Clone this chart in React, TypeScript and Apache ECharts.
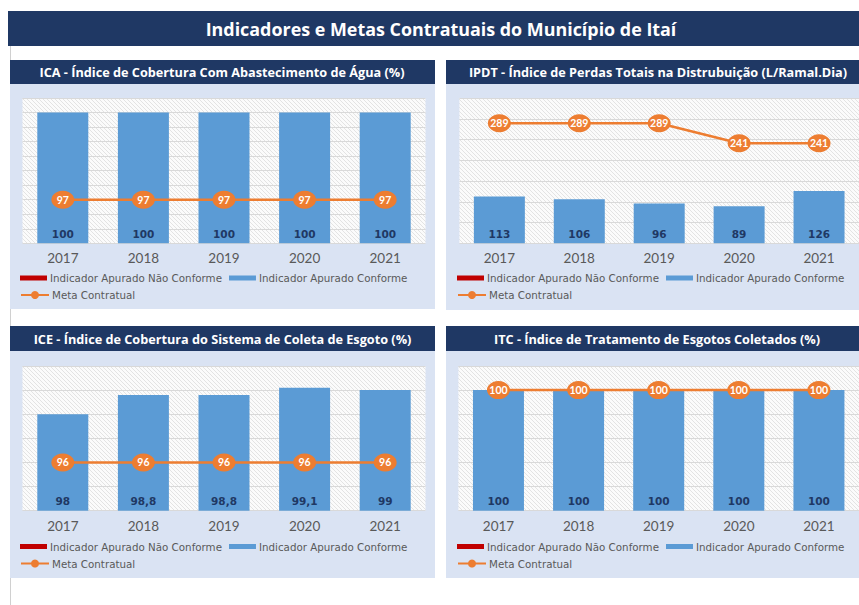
import React, { useEffect, useRef } from "react";
import * as echarts from "echarts";

const years = ["2017", "2018", "2019", "2020", "2021"];

const icaConforme = [100, 100, 100, 100, 100];
const icaMeta = [97, 97, 97, 97, 97];
const ipdtConforme = [113, 106, 96, 89, 126];
const ipdtMeta = [289, 289, 289, 241, 241];
const iceConforme = [98, 98.8, 98.8, 99.1, 99];
const iceMeta = [96, 96, 96, 96, 96];
const itcConforme = [100, 100, 100, 100, 100];
const itcMeta = [100, 100, 100, 100, 100];
const naoConforme: (number | null)[] = [null, null, null, null, null];

const mainTitle = "Indicadores e Metas Contratuais do Município de Itaí";
const panelTitles = [
  "ICA - Índice de Cobertura Com Abastecimento de Água (%)",
  "IPDT - Índice de Perdas Totais na Distrubuição (L/Ramal.Dia)",
  "ICE - Índice de Cobertura do Sistema de Coleta de Esgoto (%)",
  "ITC - Índice de Tratamento de Esgotos Coletados (%)",
];
const legendBars = ["Indicador Apurado Não Conforme", "Indicador Apurado Conforme"];
const legendLine = "Meta Contratual";

const NAVY = "#1f3864";
const PANEL = "#dae3f3";
const BLUE = "#5b9bd5";
const ORANGE = "#ed7d31";
const RED = "#c00000";
const GRAY = "#595959";

function hatchUrl(): string {
  const c = document.createElement("canvas");
  c.width = 4;
  c.height = 4;
  const ctx = c.getContext("2d")!;
  ctx.fillStyle = "#fbfbfb";
  ctx.fillRect(0, 0, 4, 4);
  ctx.strokeStyle = "#e3e3e3";
  ctx.lineWidth = 1;
  for (const off of [-4, 0, 4]) {
    ctx.beginPath();
    ctx.moveTo(0, off);
    ctx.lineTo(4, 4 + off);
    ctx.stroke();
  }
  return c.toDataURL();
}

export default function App() {
  const ref = useRef<HTMLDivElement>(null);
  useEffect(() => {
    if (!ref.current) return;
    const chart = echarts.init(ref.current, undefined, { renderer: "svg" });
    const hatch = { image: hatchUrl(), repeat: "repeat" } as any;

    const panels = [
      { grid: { left: 22.5, top: 98, width: 403, height: 145.3 }, y: { min: 95.5, max: 100.5, interval: 0.5 }, bar: icaConforme, meta: icaMeta, legX: 20, legY: 273 },
      { grid: { left: 459.4, top: 98, width: 401.2, height: 145.3 }, y: { min: 0, max: 350, interval: 50 }, bar: ipdtConforme, meta: ipdtMeta, legX: 457, legY: 273 },
      { grid: { left: 22.5, top: 366, width: 403, height: 144.7 }, y: { min: 94, max: 100, interval: 1 }, bar: iceConforme, meta: iceMeta, legX: 20, legY: 541.5 },
      { grid: { left: 458.4, top: 366, width: 402.2, height: 144.7 }, y: { min: 0, max: 120, interval: 20 }, bar: itcConforme, meta: itcMeta, legX: 457, legY: 541.5 },
    ];

    const grids: any[] = [];
    const xAxes: any[] = [];
    const yAxes: any[] = [];
    const series: any[] = [];
    const legends: any[] = [];

    panels.forEach((p, i) => {
      grids.push({ ...p.grid, show: true, backgroundColor: hatch, borderWidth: 0 });
      xAxes.push({
        type: "category",
        gridIndex: i,
        data: years,
        axisLine: { show: false },
        axisTick: { show: false },
        axisLabel: { color: GRAY, fontSize: 13.5, fontFamily: "Lato", margin: 8 },
      });
      yAxes.push({
        type: "value",
        gridIndex: i,
        min: p.y.min,
        max: p.y.max,
        interval: p.y.interval,
        axisLabel: { show: false },
        axisLine: { show: false },
        axisTick: { show: false },
        splitLine: { show: true, lineStyle: { color: "#d9d9d9", width: 1 } },
      });
      series.push({
        type: "bar",
        name: legendBars[1],
        xAxisIndex: i,
        yAxisIndex: i,
        stack: "s" + i,
        data: p.bar,
        barWidth: 51,
        itemStyle: { color: BLUE },
        label: {
          show: true,
          position: "insideBottom",
          distance: 4,
          color: NAVY,
          fontWeight: "bold",
          fontSize: 10.5,
          fontFamily: "DejaVu Sans",
          formatter: (v: any) => String(v.value).replace(".", ","),
        },
      });
      series.push({
        type: "bar",
        name: legendBars[0],
        xAxisIndex: i,
        yAxisIndex: i,
        stack: "s" + i,
        data: naoConforme,
        barWidth: 51,
        itemStyle: { color: RED },
      });
      series.push({
        type: "line",
        name: legendLine,
        xAxisIndex: i,
        yAxisIndex: i,
        data: p.meta,
        symbol: "circle",
        symbolSize: [23, 18],
        itemStyle: { color: ORANGE },
        lineStyle: { color: ORANGE, width: 2.5 },
        label: {
          show: true,
          position: "inside",
          color: "#ffffff",
          fontWeight: "bold",
          fontSize: 10.5,
          fontFamily: "Lato",
        },
        z: 5,
      });
      legends.push({
        left: p.legX,
        top: p.legY,
        orient: "horizontal",
        data: legendBars.map((n) => ({ name: n, icon: "rect" })),
        itemWidth: 27,
        itemHeight: 5,
        itemGap: 7,
        padding: 0,
        selectedMode: false,
        textStyle: { color: GRAY, fontSize: 10.3, fontFamily: "DejaVu Sans", padding: [0, 0, 0, -2] },
      });
      legends.push({
        left: p.legX,
        top: p.legY + 17,
        data: [legendLine],
        itemWidth: 28,
        itemHeight: 10,
        padding: 0,
        selectedMode: false,
        textStyle: { color: GRAY, fontSize: 10.3, fontFamily: "DejaVu Sans", padding: [0, 0, 0, -2] },
      });
    });

    const boxes = [
      { x: 10, y: 60, w: 425, hh: 24, bh: 225, tx: 222, t: panelTitles[0] },
      { x: 446, y: 60, w: 420, hh: 24, bh: 226, tx: 658, t: panelTitles[1] },
      { x: 10, y: 326, w: 425, hh: 25, bh: 227, tx: 222.5, t: panelTitles[2] },
      { x: 446, y: 326, w: 420, hh: 25, bh: 227, tx: 657, t: panelTitles[3] },
    ];
    const graphics: any[] = [
      { type: "line", z: -2, shape: { x1: 10.5, y1: 46, x2: 10.5, y2: 605 }, style: { stroke: "#d0d0d0", lineWidth: 1 } },
      { type: "rect", z: -1, shape: { x: 8, y: 11, width: 860, height: 35 }, style: { fill: NAVY } },
      {
        type: "text",
        z: 10,
        x: 441,
        y: 28.5,
        style: { text: mainTitle, fill: "#ffffff", font: "bold 17.9px 'Open Sans'", textAlign: "center", textVerticalAlign: "middle" },
      },
    ];
    boxes.forEach((b) => {
      graphics.push({ type: "rect", z: -1, shape: { x: b.x, y: b.y + b.hh, width: b.w, height: b.bh }, style: { fill: PANEL } });
      graphics.push({ type: "rect", z: -1, shape: { x: b.x, y: b.y, width: b.w, height: b.hh }, style: { fill: NAVY } });
      graphics.push({
        type: "text",
        z: 10,
        x: b.tx,
        y: b.y + b.hh / 2,
        style: { text: b.t, fill: "#ffffff", font: "bold 12.7px 'Open Sans'", textAlign: "center", textVerticalAlign: "middle" },
      });
    });

    chart.setOption({
      animation: false,
      backgroundColor: "#ffffff",
      graphic: { elements: graphics },
      grid: grids,
      xAxis: xAxes,
      yAxis: yAxes,
      legend: legends,
      series,
    });
    return () => chart.dispose();
  }, []);
  return <div ref={ref} style={{ position: "fixed", left: 0, top: 0, width: 859, height: 605 }} />;
}
